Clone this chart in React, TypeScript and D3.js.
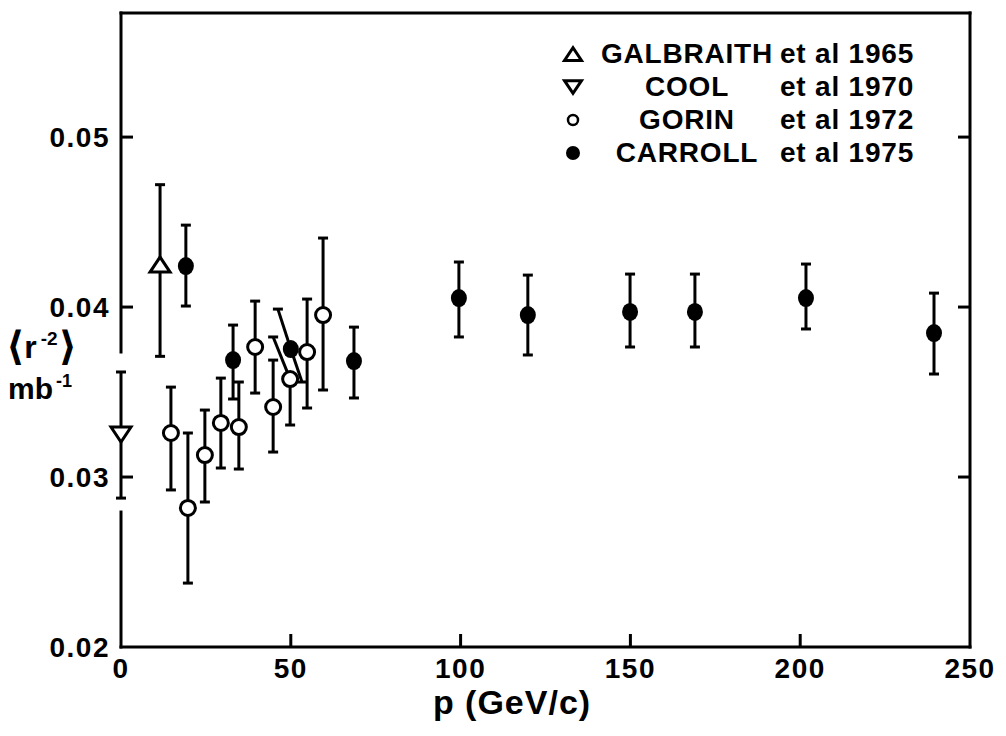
import React from "react";
import * as d3 from "d3";

// ---- data ----
const galbraithP = [11.5];
const galbraithV = [0.0425];
const galbraithLo = [0.0371];
const galbraithHi = [0.0472];

const coolP = [0];
const coolV = [0.0325];
const coolLo = [0.02876];
const coolHi = [0.03618];

const gorinP = [14.7, 19.7, 24.7, 29.4, 34.7, 39.5, 44.8, 49.8, 54.8, 59.5];
const gorinV = [0.03259, 0.02818, 0.03129, 0.03318, 0.03294, 0.03765, 0.03412, 0.03576, 0.03735, 0.03953];
const gorinLo = [0.02924, 0.02376, 0.02853, 0.03053, 0.03047, 0.03494, 0.03147, 0.03306, 0.03406, 0.03512];
const gorinHi = [0.03529, 0.03259, 0.03394, 0.03582, 0.03559, 0.04035, 0.03688, 0.03824, 0.04047, 0.04406];
// p position of the upper / lower error-bar end when the bar is drawn slanted
const gorinHiP = [null, null, null, null, null, null, null, 44.8, null, null];
const gorinLoP = [null, null, null, null, null, null, null, null, null, null];

const carrollP = [19.1, 33, 50, 68.6, 99.5, 119.8, 149.9, 169, 201.7, 239.4];
const carrollV = [0.04241, 0.03688, 0.03753, 0.03682, 0.04053, 0.03953, 0.03971, 0.03971, 0.04053, 0.03847];
const carrollLo = [0.04006, 0.03459, 0.03559, 0.03465, 0.03824, 0.03718, 0.03765, 0.03765, 0.03871, 0.03606];
const carrollHi = [0.04482, 0.03894, 0.03988, 0.03882, 0.04265, 0.04188, 0.04194, 0.04194, 0.04253, 0.04082];
const carrollHiP = [null, null, 46.2, null, null, null, null, null, null, null];
const carrollLoP = [null, null, 53.3, null, null, null, null, null, null, null];

const xTicks = [0, 50, 100, 150, 200, 250];
const yTicks = [0.02, 0.03, 0.04, 0.05];
const yTickLabels = ["0.02", "0.03", "0.04", "0.05"];

const legendNames = ["GALBRAITH", "COOL", "GORIN", "CARROLL"];
const legendRefs = ["et al 1965", "et al 1970", "et al 1972", "et al 1975"];
const legendMarkers = ["up", "down", "open", "filled"];

// left-axis break (axis interrupted around the COOL point)
const axisBreakHi = 0.03735;
const axisBreakLo = 0.02794;

const FONT = "'Liberation Sans', Arial, Helvetica, sans-serif";

const x = d3.scaleLinear().domain([0, 250]).range([121, 970]);
const y = d3.scaleLinear().domain([0.02, 0.0573]).range([647, 13]);

type Series = {
  p: number[];
  v: number[];
  lo: number[];
  hi: number[];
  hiP?: (number | null)[];
  loP?: (number | null)[];
  marker: string;
};

const series: Series[] = [
  { p: coolP, v: coolV, lo: coolLo, hi: coolHi, marker: "down" },
  { p: galbraithP, v: galbraithV, lo: galbraithLo, hi: galbraithHi, marker: "up" },
  { p: gorinP, v: gorinV, lo: gorinLo, hi: gorinHi, hiP: gorinHiP, loP: gorinLoP, marker: "open" },
  { p: carrollP, v: carrollV, lo: carrollLo, hi: carrollHi, hiP: carrollHiP, loP: carrollLoP, marker: "filled" },
];

function Marker({ kind, cx, cy, s = 1 }: { kind: string; cx: number; cy: number; s?: number }) {
  if (kind === "up") {
    const w = 10 * s, h = 15 * s;
    const pts = `${cx - w},${cy + h / 2} ${cx + w},${cy + h / 2} ${cx},${cy - h / 2}`;
    return <polygon points={pts} fill="#fff" stroke="#000" strokeWidth={3} strokeLinejoin="miter" />;
  }
  if (kind === "down") {
    const w = 10 * s, h = 15 * s;
    const pts = `${cx - w},${cy - h / 2} ${cx + w},${cy - h / 2} ${cx},${cy + h / 2}`;
    return <polygon points={pts} fill="#fff" stroke="#000" strokeWidth={3} strokeLinejoin="miter" />;
  }
  if (kind === "open") {
    return <circle cx={cx} cy={cy} r={7.5 * s} fill="#fff" stroke="#000" strokeWidth={3} />;
  }
  return <ellipse cx={cx} cy={cy} rx={8 * s} ry={9 * s} fill="#000" />;
}

export default function App() {
  const capW = 5;
  const lw = 3;
  const bars: JSX.Element[] = [];
  const marks: JSX.Element[] = [];
  series.forEach((s, si) => {
    s.p.forEach((p, i) => {
      const cx = x(p);
      const cy = y(s.v[i]);
      const hx = s.hiP && s.hiP[i] != null ? x(s.hiP[i] as number) : cx;
      const lx = s.loP && s.loP[i] != null ? x(s.loP[i] as number) : cx;
      const hy = y(s.hi[i]);
      const ly = y(s.lo[i]);
      bars.push(
        <g key={`b${si}-${i}`} stroke="#000" strokeWidth={lw} fill="none">
          <line x1={cx} y1={cy} x2={hx} y2={hy} />
          <line x1={cx} y1={cy} x2={lx} y2={ly} />
          <line x1={hx - capW} y1={hy} x2={hx + capW} y2={hy} />
          <line x1={lx - capW} y1={ly} x2={lx + capW} y2={ly} />
        </g>
      );
      marks.push(<Marker key={`m${si}-${i}`} kind={s.marker} cx={cx} cy={cy} />);
    });
  });

  const [x0, x1] = x.range();
  const yBottom = y(0.02);
  const yTop = y(0.0573);

  return (
    <svg
      width={1006}
      height={736}
      viewBox="0 0 1006 736"
      style={{ position: "absolute", left: 0, top: 0, background: "#fff" }}
      fontFamily={FONT}
      fontWeight="bold"
    >
      <rect x={0} y={0} width={1006} height={736} fill="#fff" />
      {/* frame */}
      <g stroke="#000" strokeWidth={3} fill="none" strokeLinecap="square">
        <line x1={x0} y1={yTop} x2={x1} y2={yTop} />
        <line x1={x1} y1={yTop} x2={x1} y2={yBottom} />
        <line x1={x0} y1={yBottom} x2={x1} y2={yBottom} />
        <line x1={x0} y1={yTop} x2={x0} y2={y(axisBreakHi)} />
        <line x1={x0} y1={y(axisBreakLo)} x2={x0} y2={yBottom} />
      </g>
      {/* ticks */}
      <g stroke="#000" strokeWidth={3}>
        {yTicks.filter((t) => t > 0.02).map((t) => (
          <g key={`yt${t}`}>
            <line x1={x0} y1={y(t)} x2={x0 + 12} y2={y(t)} />
            <line x1={x1} y1={y(t)} x2={x1 - 12} y2={y(t)} />
          </g>
        ))}
        {xTicks.filter((t) => t > 0 && t < 250).map((t) => (
          <line key={`xt${t}`} x1={x(t)} y1={yBottom} x2={x(t)} y2={yBottom - 13} />
        ))}
      </g>
      {/* tick labels */}
      <g fontSize={28} fill="#000" letterSpacing={1.5}>
        {yTicks.map((t, i) => (
          <text key={`yl${t}`} x={110} y={y(t) + 10} textAnchor="end">
            {yTickLabels[i]}
          </text>
        ))}
        {xTicks.map((t) => (
          <text key={`xl${t}`} x={x(t)} y={678} textAnchor="middle">
            {t}
          </text>
        ))}
      </g>
      {/* axis titles */}
      <text x={512} y={714} textAnchor="middle" fontSize={34} fill="#000" letterSpacing={1}>
        p (GeV/c)
      </text>
      <g fill="#000">
        <text x={6} y={358} fontSize={32}>
          <tspan fontFamily="'DejaVu Sans', sans-serif" fontSize={40} dy={2}>⟨</tspan>
          <tspan dy={-2}>r</tspan>
          <tspan fontSize={19} dy={-13} dx={4}>-2</tspan>
          <tspan fontFamily="'DejaVu Sans', sans-serif" fontSize={40} dy={15} dx={1}>⟩</tspan>
        </text>
        <text x={8} y={399} fontSize={30}>
          <tspan>mb</tspan>
          <tspan fontSize={18} dy={-12} dx={3}>-1</tspan>
        </text>
      </g>
      {/* data */}
      {bars}
      {marks}
      {/* legend */}
      <g fontSize={28} fill="#000" letterSpacing={0.8}>
        {legendNames.map((n, i) => {
          const by = 63 + i * 33;
          const my = by - 9;
          const kind = legendMarkers[i];
          return (
            <g key={`lg${i}`}>
              {kind === "open" ? (
                <circle cx={573} cy={my} r={5} fill="#fff" stroke="#000" strokeWidth={2.5} />
              ) : kind === "filled" ? (
                <circle cx={573} cy={my} r={7} fill="#000" />
              ) : (
                <Marker kind={kind} cx={573} cy={my} s={0.85} />
              )}
              <text x={687} y={by} textAnchor="middle">{n}</text>
              <text x={780} y={by}>{legendRefs[i]}</text>
            </g>
          );
        })}
      </g>
    </svg>
  );
}
